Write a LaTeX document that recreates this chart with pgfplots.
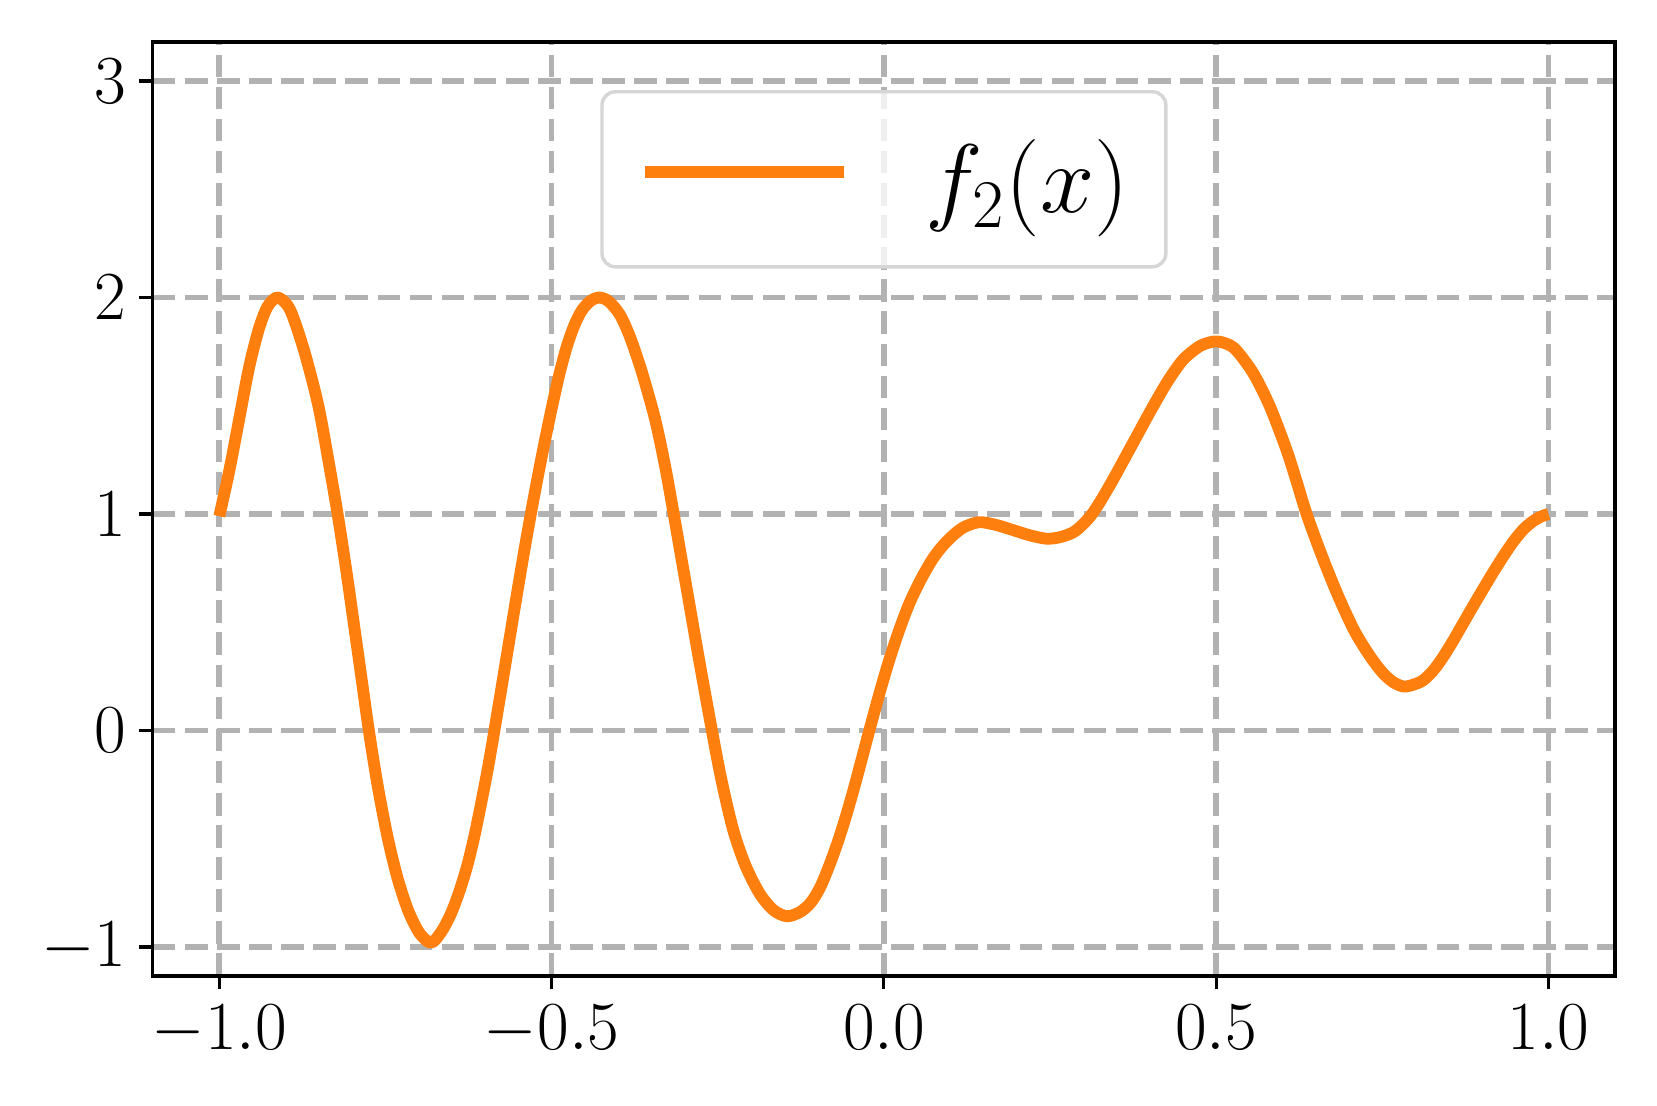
\documentclass[border=0pt]{standalone}
\usepackage{fix-cm}
\usepackage{pgfplots}
\pgfplotsset{compat=1.18}
\definecolor{taborange}{HTML}{FF7F0E}
\definecolor{gridgray}{HTML}{B2B2B2}
\definecolor{legedge}{HTML}{D6D6D6}

\begin{document}
\begin{tikzpicture}
\begin{axis}[
  name=ax,
  scale only axis,
  width=382.6pt, height=244.4pt,
  xmin=-1.1, xmax=1.1, ymin=-1.134, ymax=3.18,
  xtick={-1,-0.5,0,0.5,1}, ytick={-1,0,1,2,3},
  grid=major,
  major grid style={gridgray, line width=1.5pt, dash pattern=on 5.9pt off 2.5pt},
  axis line style={line width=0.8pt},
  tick align=outside, tick pos=left,
  major tick length=3.5pt,
  every tick/.style={black, line width=0.8pt},
  tick label style={font=\fontsize{18}{20}\selectfont},
  xticklabel style={/pgf/number format/fixed, /pgf/number format/fixed zerofill,
    /pgf/number format/precision=1, anchor=north, inner sep=0pt, yshift=-3.8pt},
  yticklabel style={anchor=east, inner sep=0pt, xshift=-3.2pt},
  legend style={
    at={(0.5,0.9486)}, anchor=north,
    draw=legedge, line width=0.9pt, rounded corners=3.5pt,
    fill=white, fill opacity=0.8, text opacity=1, draw opacity=1,
    inner xsep=9.7pt, inner ysep=12.6pt,
    column sep=19.8pt,
    font=\fontsize{25.5}{30}\selectfont,
    nodes={inner sep=0pt},
  },
  legend image code/.code={\draw[#1, draw opacity=1] (0pt,1.8pt) -- (52pt,1.8pt);},
]
% f_2
\addplot[taborange, line width=3.1pt, smooth, line join=round] coordinates {
(-1.000,0.990) (-0.985,1.200) (-0.970,1.440) (-0.955,1.680) (-0.940,1.860)
(-0.927,1.960) (-0.913,2.000) (-0.899,1.970) (-0.889,1.910) (-0.871,1.740)
(-0.851,1.500) (-0.836,1.250) (-0.822,1.000) (-0.809,0.740) (-0.797,0.480)
(-0.786,0.240) (-0.775,0.000) (-0.762,-0.250) (-0.747,-0.490) (-0.732,-0.680)
(-0.716,-0.830) (-0.699,-0.935) (-0.6815,-0.980) (-0.666,-0.930) (-0.652,-0.850)
(-0.639,-0.745) (-0.627,-0.625) (-0.616,-0.485) (-0.605,-0.320) (-0.595,-0.160)
(-0.585,0.020) (-0.575,0.205) (-0.564,0.410) (-0.553,0.615) (-0.542,0.815)
(-0.531,1.005) (-0.520,1.185) (-0.509,1.355) (-0.498,1.515) (-0.488,1.650)
(-0.477,1.775) (-0.466,1.870) (-0.455,1.938) (-0.442,1.983) (-0.4283,2.000)
(-0.414,1.982) (-0.3972,1.920) (-0.3821,1.818) (-0.3646,1.660) (-0.3445,1.440)
(-0.3295,1.225) (-0.318,1.030) (-0.3044,0.790) (-0.2959,0.640) (-0.2783,0.330)
(-0.2603,0.025) (-0.2447,-0.225) (-0.2267,-0.460) (-0.2081,-0.625) (-0.1866,-0.755)
(-0.166,-0.830) (-0.146,-0.858) (-0.126,-0.838) (-0.110,-0.795) (-0.096,-0.725)
(-0.083,-0.630) (-0.070,-0.520) (-0.057,-0.395) (-0.044,-0.255) (-0.031,-0.105)
(-0.018,0.045) (-0.005,0.190) (0.008,0.325) (0.022,0.455) (0.038,0.585)
(0.056,0.700) (0.075,0.800) (0.095,0.875) (0.118,0.935) (0.1428,0.962)
(0.168,0.950) (0.194,0.926) (0.219,0.902) (0.2445,0.886) (0.265,0.893)
(0.2846,0.915) (0.298,0.948) (0.312,0.995) (0.327,1.065) (0.345,1.160)
(0.361,1.250) (0.377,1.340) (0.392,1.425) (0.407,1.508) (0.4274,1.615)
(0.450,1.712) (0.4725,1.770) (0.486,1.789) (0.500,1.797) (0.515,1.787)
(0.530,1.757) (0.556,1.649) (0.581,1.495) (0.606,1.294) (0.621,1.150)
(0.636,1.000) (0.658,0.815) (0.683,0.625) (0.708,0.460) (0.731,0.345)
(0.750,0.268) (0.766,0.224) (0.782,0.203) (0.797,0.212) (0.811,0.231)
(0.826,0.275) (0.841,0.338) (0.856,0.412) (0.871,0.492) (0.886,0.572)
(0.901,0.650) (0.916,0.727) (0.931,0.800) (0.946,0.868) (0.961,0.925)
(0.975,0.963) (0.988,0.987) (1.000,1.000)
};
\addlegendentry{$f_2(x)$}
\end{axis}
\pgfresetboundingbox
\path[use as bounding box] ([xshift=-40pt,yshift=-33.8pt]ax.south west) rectangle ([xshift=11pt,yshift=11pt]ax.north east);
\end{tikzpicture}
\end{document}
